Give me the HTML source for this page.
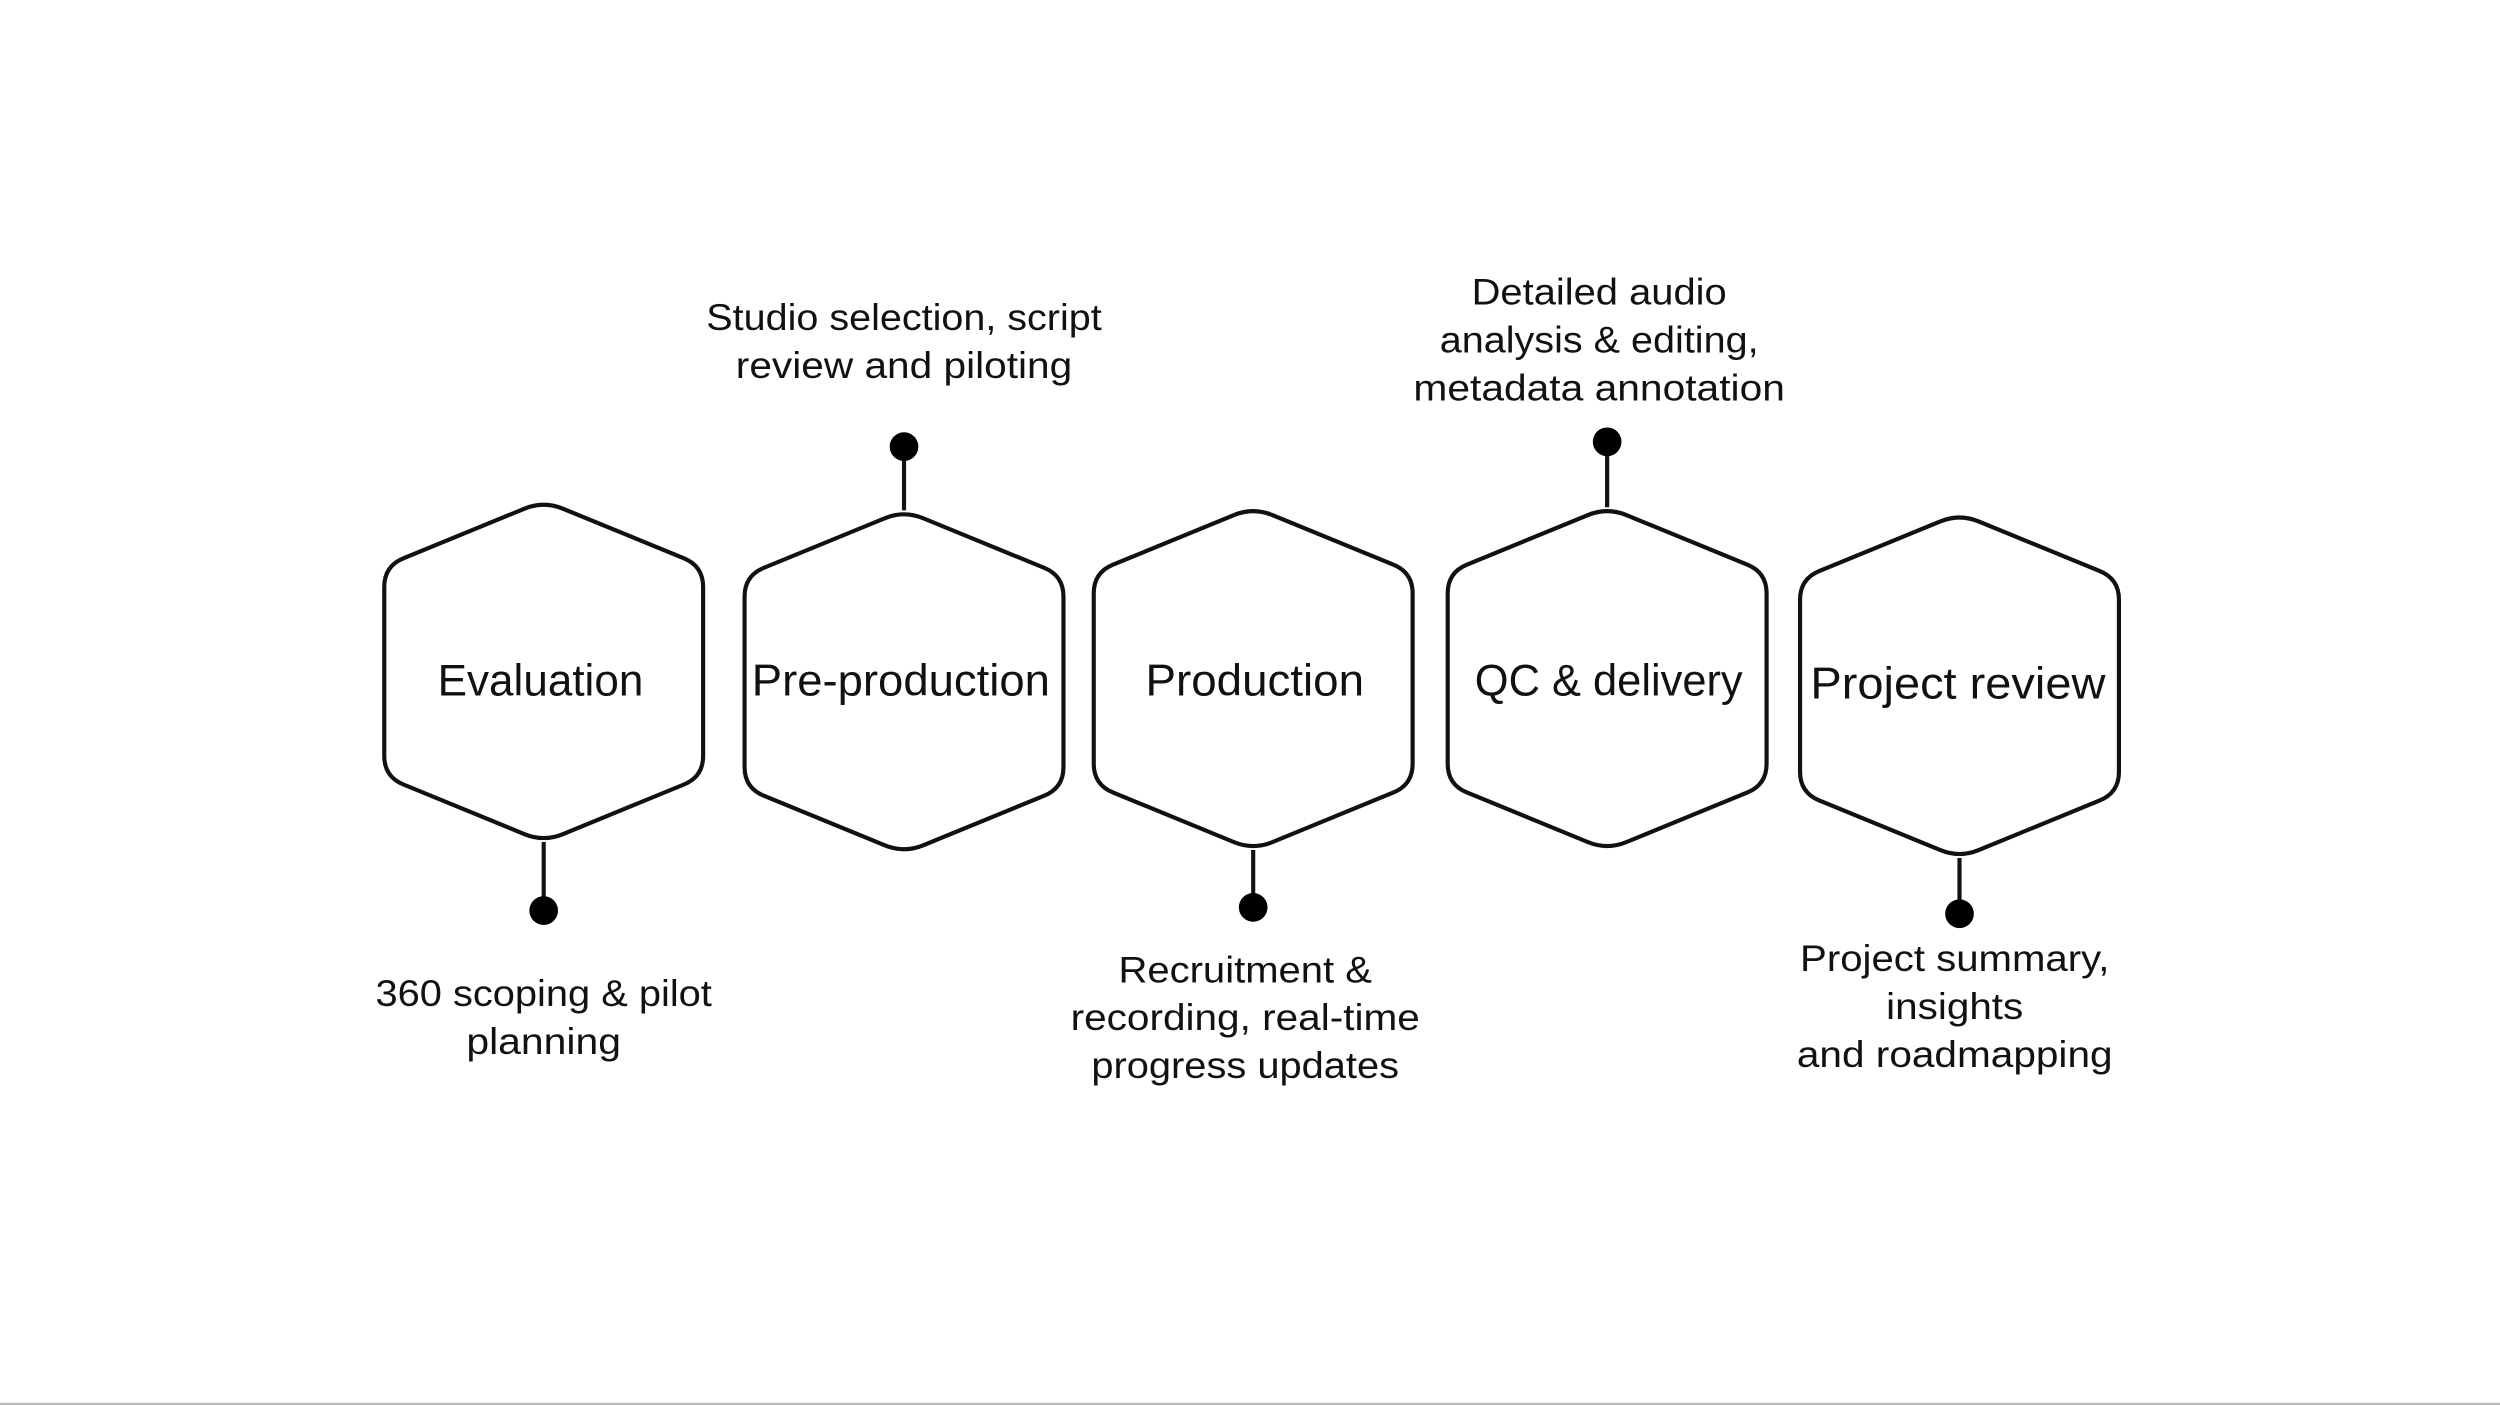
<!DOCTYPE html>
<html><head><meta charset="utf-8"><style>
html,body{margin:0;padding:0;background:#fff;}
svg{display:block;}
text{font-family:"Liberation Sans",sans-serif;fill:#111;text-anchor:middle;}
.s{font-size:23px;}
.h{font-size:28px;}
</style></head><body>
<svg id="sv" width="2500" height="1405" viewBox="0 0 1568 881" xmlns="http://www.w3.org/2000/svg">
<rect x="0" y="0" width="1568" height="881" fill="#fff"/>
<line x1="0" y1="880.5" x2="1568" y2="880.5" stroke="#bbb" stroke-width="1.5"/>
<g id="hexes" fill="none" stroke="#111" stroke-width="2.6"></g>
<g stroke="#111" stroke-width="2.6">
<line x1="341" y1="528" x2="341" y2="571"/>
<line x1="567" y1="280" x2="567" y2="320"/>
<line x1="786" y1="533" x2="786" y2="569"/>
<line x1="1008" y1="277" x2="1008" y2="318"/>
<line x1="1229" y1="538" x2="1229" y2="573"/>
</g>
<g fill="#000">
<circle cx="341" cy="571" r="9"/>
<circle cx="567" cy="280" r="9"/>
<circle cx="786" cy="569" r="9"/>
<circle cx="1008" cy="277" r="9"/>
<circle cx="1229" cy="573" r="9"/>
</g>
<text class="h" x="339" y="436" textLength="129" lengthAdjust="spacingAndGlyphs">Evaluation</text>
<text class="h" x="565" y="436" textLength="187" lengthAdjust="spacingAndGlyphs">Pre-production</text>
<text class="h" x="787" y="436" textLength="137" lengthAdjust="spacingAndGlyphs">Production</text>
<text class="h" x="1009" y="436" textLength="168" lengthAdjust="spacingAndGlyphs">QC &amp; delivery</text>
<text class="h" x="1228" y="438" textLength="185" lengthAdjust="spacingAndGlyphs">Project review</text>

<text class="s" x="567" y="207" textLength="248" lengthAdjust="spacingAndGlyphs">Studio selection, script</text>
<text class="s" x="567" y="237" textLength="211" lengthAdjust="spacingAndGlyphs">review and piloting</text>

<text class="s" x="1003" y="191" textLength="160" lengthAdjust="spacingAndGlyphs">Detailed audio</text>
<text class="s" x="1003" y="221" textLength="200" lengthAdjust="spacingAndGlyphs">analysis &amp; editing,</text>
<text class="s" x="1003" y="251" textLength="233" lengthAdjust="spacingAndGlyphs">metadata annotation</text>

<text class="s" x="341" y="631" textLength="211" lengthAdjust="spacingAndGlyphs">360 scoping &amp; pilot</text>
<text class="s" x="341" y="661" textLength="97" lengthAdjust="spacingAndGlyphs">planning</text>

<text class="s" x="781" y="616" textLength="159" lengthAdjust="spacingAndGlyphs">Recruitment &amp;</text>
<text class="s" x="781" y="646" textLength="219" lengthAdjust="spacingAndGlyphs">recording, real-time</text>
<text class="s" x="781" y="676" textLength="193" lengthAdjust="spacingAndGlyphs">progress updates</text>

<text class="s" x="1226" y="609" textLength="194" lengthAdjust="spacingAndGlyphs">Project summary,</text>
<text class="s" x="1226" y="639" textLength="86" lengthAdjust="spacingAndGlyphs">insights</text>
<text class="s" x="1226" y="669" textLength="198" lengthAdjust="spacingAndGlyphs">and roadmapping</text>
</svg>
<script>
(function(){
var hs=[[341,314,528],[567,320,535],[786,318,533],[1008,318,533],[1229,322,538]];
var g=document.getElementById('hexes');var r=13,w=100,sh=41;
hs.forEach(function(h){
 var cx=h[0],t=h[1],b=h[2];
 var p=[[cx,t],[cx+w,t+sh],[cx+w,b-sh],[cx,b],[cx-w,b-sh],[cx-w,t+sh]];
 var d='';
 for(var i=0;i<6;i++){
  var P=p[i],A=p[(i+5)%6],B=p[(i+1)%6];
  var la=Math.hypot(A[0]-P[0],A[1]-P[1]),lb=Math.hypot(B[0]-P[0],B[1]-P[1]);
  var a=[P[0]+(A[0]-P[0])*r/la,P[1]+(A[1]-P[1])*r/la];
  var c=[P[0]+(B[0]-P[0])*r/lb,P[1]+(B[1]-P[1])*r/lb];
  d+=(i?'L':'M')+a[0].toFixed(2)+' '+a[1].toFixed(2)+'Q'+P[0]+' '+P[1]+' '+c[0].toFixed(2)+' '+c[1].toFixed(2);
 }
 d+='Z';
 var e=document.createElementNS('http://www.w3.org/2000/svg','path');
 e.setAttribute('d',d);g.appendChild(e);
});
})();
</script>
</body></html>
